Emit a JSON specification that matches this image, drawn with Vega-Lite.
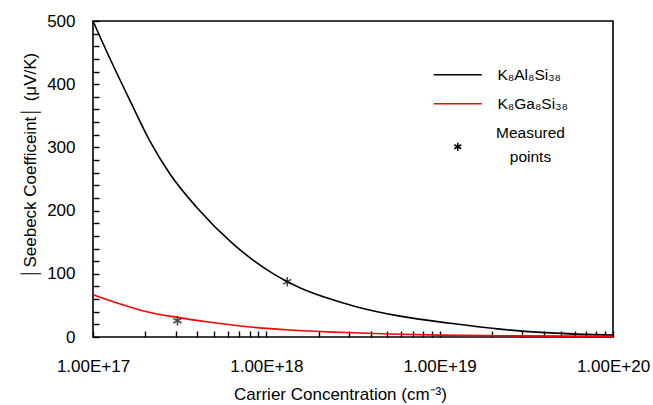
{
  "$schema": "https://vega.github.io/schema/vega-lite/v6.json",
  "width": 520,
  "height": 316,
  "autosize": {"type": "none"},
  "padding": {"left": 93, "top": 21, "right": 40, "bottom": 68},
  "background": "white",
  "config": {
    "view": {"stroke": "black", "strokeWidth": 1.6},
    "font": "Liberation Sans",
    "axis": {"grid": false, "domain": false, "tickColor": "black", "tickWidth": 1.4, "labelColor": "black", "titleColor": "black", "labelFont": "Liberation Sans", "titleFont": "Liberation Sans", "titleFontWeight": "normal"}
  },
  "data": {
    "values": [
      {"series": "K₈Al₈Si₃₈", "kind": "line", "n": 1e17, "s": 500},
      {"series": "K₈Al₈Si₃₈", "kind": "line", "n": 1.25e17, "s": 441},
      {"series": "K₈Al₈Si₃₈", "kind": "line", "n": 1.635e17, "s": 374},
      {"series": "K₈Al₈Si₃₈", "kind": "line", "n": 2.13e17, "s": 310},
      {"series": "K₈Al₈Si₃₈", "kind": "line", "n": 2.78e17, "s": 258},
      {"series": "K₈Al₈Si₃₈", "kind": "line", "n": 3.97e17, "s": 205},
      {"series": "K₈Al₈Si₃₈", "kind": "line", "n": 6.45e17, "s": 147},
      {"series": "K₈Al₈Si₃₈", "kind": "line", "n": 1e18, "s": 107},
      {"series": "K₈Al₈Si₃₈", "kind": "line", "n": 1.56e18, "s": 78},
      {"series": "K₈Al₈Si₃₈", "kind": "line", "n": 2.44e18, "s": 58.5},
      {"series": "K₈Al₈Si₃₈", "kind": "line", "n": 3.3e18, "s": 48},
      {"series": "K₈Al₈Si₃₈", "kind": "line", "n": 5.9e18, "s": 33},
      {"series": "K₈Al₈Si₃₈", "kind": "line", "n": 1.15e19, "s": 21.7},
      {"series": "K₈Al₈Si₃₈", "kind": "line", "n": 2.23e19, "s": 12.5},
      {"series": "K₈Al₈Si₃₈", "kind": "line", "n": 4.35e19, "s": 6.5},
      {"series": "K₈Al₈Si₃₈", "kind": "line", "n": 1e20, "s": 3},
      {"series": "K₈Ga₈Si₃₈", "kind": "line", "n": 1e17, "s": 67},
      {"series": "K₈Ga₈Si₃₈", "kind": "line", "n": 1.5e17, "s": 50.6},
      {"series": "K₈Ga₈Si₃₈", "kind": "line", "n": 2.04e17, "s": 40},
      {"series": "K₈Ga₈Si₃₈", "kind": "line", "n": 3.07e17, "s": 31},
      {"series": "K₈Ga₈Si₃₈", "kind": "line", "n": 4.53e17, "s": 24},
      {"series": "K₈Ga₈Si₃₈", "kind": "line", "n": 7.05e17, "s": 17.4},
      {"series": "K₈Ga₈Si₃₈", "kind": "line", "n": 1.37e18, "s": 11},
      {"series": "K₈Ga₈Si₃₈", "kind": "line", "n": 2.6e18, "s": 7.4},
      {"series": "K₈Ga₈Si₃₈", "kind": "line", "n": 5.17e18, "s": 4.7},
      {"series": "K₈Ga₈Si₃₈", "kind": "line", "n": 1e19, "s": 3},
      {"series": "K₈Ga₈Si₃₈", "kind": "line", "n": 3e19, "s": 1.8},
      {"series": "K₈Ga₈Si₃₈", "kind": "line", "n": 1e20, "s": 1},
      {"series": "Measured points", "kind": "point", "n": 1.32e18, "s": 87.5},
      {"series": "Measured points", "kind": "point", "n": 3.07e17, "s": 25.8}
    ]
  },
  "encoding": {
    "x": {
      "field": "n", "type": "quantitative",
      "scale": {"type": "log", "domain": [1e17, 1e20], "nice": false},
      "axis": {
        "values": [1e17, 2e17, 3e17, 4e17, 5e17, 6e17, 7e17, 8e17, 9e17, 1e18, 2e18, 3e18, 4e18, 5e18, 6e18, 7e18, 8e18, 9e18, 1e19, 2e19, 3e19, 4e19, 5e19, 6e19, 7e19, 8e19, 9e19, 1e20],
        "labelExpr": "abs(log(datum.value)/LN10 - round(log(datum.value)/LN10)) < 0.001 ? '1.00E+' + round(log(datum.value)/LN10) : ''",
        "offset": -6,
        "tickSize": 6,
        "labelFontSize": 17,
        "labelPadding": 21,
        "labelFlush": false,
        "labelOverlap": false,
        "title": "Carrier Concentration (cm⁻³)",
        "titleFontSize": 17,
        "titlePadding": 12,
        "titleX": 247
      }
    },
    "y": {
      "field": "s", "type": "quantitative",
      "scale": {"domain": [0, 500], "nice": false},
      "axis": {
        "values": [0, 20, 40, 60, 80, 100, 120, 140, 160, 180, 200, 220, 240, 260, 280, 300, 320, 340, 360, 380, 400, 420, 440, 460, 480, 500],
        "labelExpr": "datum.value % 100 == 0 ? datum.label : ''",
        "offset": -6,
        "tickSize": 6,
        "labelFontSize": 17,
        "labelPadding": 18,
        "labelFlush": false,
        "labelOverlap": false,
        "title": "│Seebeck Coefficeint│  (μV/K)",
        "titleFontSize": 17,
        "titlePadding": 7,
        "titleY": 144
      }
    }
  },
  "layer": [
    {
      "transform": [{"filter": "datum.kind == 'line'"}],
      "mark": {"type": "line", "strokeWidth": 1.6, "interpolate": "monotone"},
      "encoding": {
        "color": {
          "field": "series", "type": "nominal",
          "scale": {"domain": ["K₈Al₈Si₃₈", "K₈Ga₈Si₃₈", "Measured points"], "range": ["black", "red", "black"]},
          "legend": {
            "orient": "none", "legendX": 357, "legendY": 46,
            "title": null, "padding": 0,
            "symbolType": "stroke", "symbolSize": 64, "symbolStrokeWidth": 1.5,
            "labelFontSize": 15.5, "labelFont": "Liberation Sans", "labelColor": "black",
            "labelOffset": 32, "rowPadding": 12, "labelLimit": 200,
            "labelExpr": "datum.label == 'Measured points' ? ['Measured', 'points'] : datum.label",
            "encode": {
              "symbols": {"update": {
                "shape": {"signal": "datum.value == 'Measured points' ? 'M0,-1L0,1M-0.87,-0.5L0.87,0.5M-0.87,0.5L0.87,-0.5' : 'M-6,0L6,0'"},
                "size": {"value": 64}
              }},
              "labels": {"update": {
                "lineHeight": {"value": 24},
                "dy": {"signal": "datum.value == 'Measured points' ? -14 : 0"},
                "align": {"signal": "datum.value == 'Measured points' ? 'center' : 'left'"},
                "dx": {"signal": "datum.value == 'Measured points' ? 33 : 0"}
              }}
            }
          }
        }
      }
    },
    {
      "transform": [{"filter": "datum.kind == 'point'"}],
      "mark": {"type": "point", "filled": false, "strokeWidth": 1.6, "size": 90, "shape": "M0,-1L0,1M-0.87,-0.5L0.87,0.5M-0.87,0.5L0.87,-0.5"},
      "encoding": {
        "color": {"datum": "Measured points", "type": "nominal"}
      }
    }
  ]
}
